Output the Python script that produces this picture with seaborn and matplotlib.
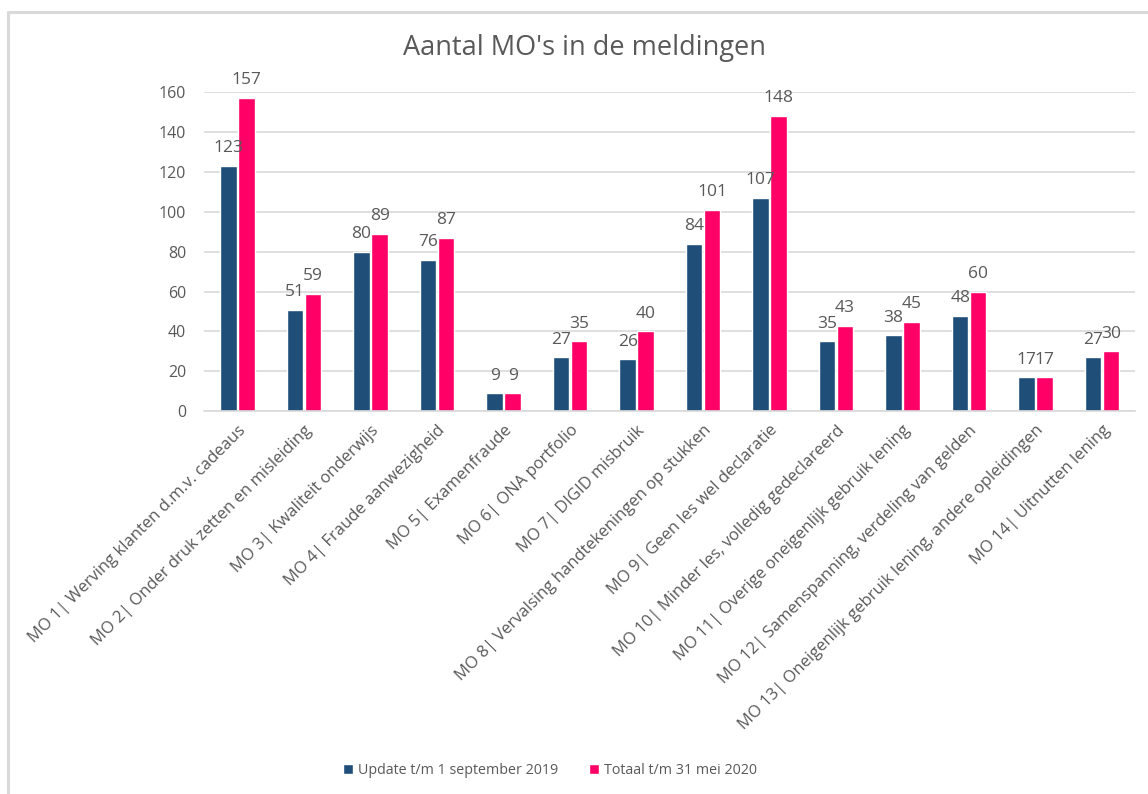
import pandas as pd
import matplotlib.pyplot as plt
import seaborn as sns
from matplotlib.lines import Line2D

categories = [
    "MO 1| Werving klanten d.m.v. cadeaus",
    "MO 2| Onder druk zetten en misleiding",
    "MO 3| Kwaliteit onderwijs",
    "MO 4| Fraude aanwezigheid",
    "MO 5| Examenfraude",
    "MO 6| ONA portfolio",
    "MO 7| DIGID misbruik",
    "MO 8| Vervalsing handtekeningen op stukken",
    "MO 9| Geen les wel declaratie",
    "MO 10| Minder les, volledig gedeclareerd",
    "MO 11| Overige oneigenlijk gebruik lening",
    "MO 12| Samenspanning, verdeling van gelden",
    "MO 13| Oneigenlijk gebruik lening, andere opleidingen",
    "MO 14| Uitnutten lening",
]
update_2019 = [123, 51, 80, 76, 9, 27, 26, 84, 107, 35, 38, 48, 17, 27]
totaal_2020 = [157, 59, 89, 87, 9, 35, 40, 101, 148, 43, 45, 60, 17, 30]
series = ["Update t/m 1 september 2019", "Totaal t/m 31 mei 2020"]
colors = ["#1F4E79", "#FF0066"]

df = pd.DataFrame({
    "MO": categories * 2,
    "Aantal": update_2019 + totaal_2020,
    "Reeks": [series[0]] * len(categories) + [series[1]] * len(categories),
})

sns.set_style("white")
plt.rcParams["font.family"] = ["Open Sans", "DejaVu Sans"]
grey = "#595959"

fig = plt.figure(figsize=(11.48, 7.94), dpi=100)
# chart frame (only top and left edges visible)
fig.add_artist(Line2D([0.007, 1.0], [0.985, 0.985], color="#D9D9D9", lw=2.2))
fig.add_artist(Line2D([0.007, 0.007], [0.0, 0.985], color="#D9D9D9", lw=2.2))

ax = fig.add_axes([0.178, 0.482, 0.811, 0.402])

sns.barplot(data=df, x="MO", y="Aantal", hue="Reeks", palette=colors,
            saturation=1, width=0.54, gap=0.08, ax=ax, legend=True)

for cont in ax.containers:
    ax.bar_label(cont, fmt="%d", padding=7, fontsize=12.5, color=grey, clip_on=False)

ax.set_ylim(0, 160)
ax.set_yticks(range(0, 161, 20))
ax.set_xlim(-0.5, len(categories) - 0.5)
ax.yaxis.grid(True, color="#D9D9D9", linewidth=1.2)
ax.set_axisbelow(True)
for s in ["top", "right", "left"]:
    ax.spines[s].set_visible(False)
ax.spines["bottom"].set_color("#D9D9D9")
ax.spines["bottom"].set_linewidth(1.2)
ax.tick_params(axis="y", length=0, labelsize=11.5, labelcolor=grey, pad=13)
ax.tick_params(axis="x", length=0, labelsize=12, labelcolor=grey, pad=8)
ax.set_xlabel("")
ax.set_ylabel("")
plt.setp(ax.get_xticklabels(), rotation=45, ha="right", rotation_mode="anchor")

fig.text(0.509, 1 - 48 / 794, "Aantal MO's in de meldingen", fontsize=19.5,
         color=grey, ha="center", va="center")

handles, labels = ax.get_legend_handles_labels()
ax.get_legend().remove()
fig.legend(handles, labels, loc="center", bbox_to_anchor=(0.479, 0.030), ncol=2,
           frameon=False, fontsize=10.3, labelcolor=grey, handlelength=0.7,
           handleheight=0.7, handletextpad=0.3, columnspacing=2.2)

fig.savefig("out.png", dpi=100)
